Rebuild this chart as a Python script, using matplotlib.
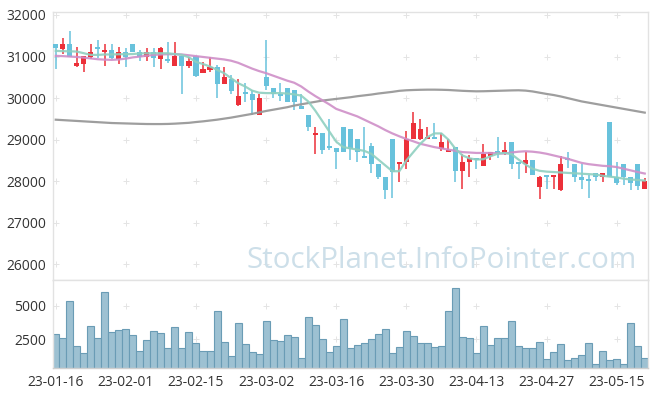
import matplotlib.pyplot as plt
import numpy as np

# datas de negociacao (rotulos a cada 10 pregoes)
tick_pos = [0, 10, 20, 30, 40, 50, 60, 70, 80]
tick_labels = ['23-01-16', '23-02-01', '23-02-15', '23-03-02', '23-03-16',
               '23-03-30', '23-04-13', '23-04-27', '23-05-15']

# OHLC
opens = [31300, 31190, 31300, 30780, 30830, 31000, 31200, 31100, 31160, 30940,
         31110, 31300, 31100, 31000, 31100, 30950, 30900, 30780, 31020, 30780,
         31020, 30592, 30680, 30744, 30344, 30464, 29840, 30100, 30104, 29584,
         30512, 30248, 30104, 30248, 30200, 29816, 29600, 29104, 29160, 28800,
         28800, 29304, 29256, 29024, 28570, 28856, 28424, 28104, 29016, 28408,
         28472, 29016, 29016, 29016, 29072, 28784, 28696, 28816, 28240, 28456,
         28568, 28360, 28600, 28690, 28680, 28952, 28420, 28416, 28512, 27856,
         28100, 28096, 27800, 28525, 28424, 28112, 28056, 28200, 28096, 29416,
         28096, 28424, 28096, 28424, 27816]
highs = [31300, 31440, 31620, 31220, 31020, 31300, 31400, 31300, 31300, 31240,
         31200, 31300, 31160, 31200, 31200, 31240, 31340, 31340, 31020, 30980,
         31020, 30880, 31000, 30800, 30744, 30544, 30456, 30360, 30200, 30096,
         31400, 30248, 30360, 30248, 30200, 30096, 29600, 29296, 29160, 29496,
         28800, 29304, 29256, 29024, 29304, 28920, 28424, 28104, 29016, 28472,
         29216, 29656, 29496, 29304, 29400, 29160, 29016, 28816, 28664, 28640,
         28568, 28904, 28704, 29056, 28944, 28952, 28420, 28696, 28512, 28136,
         28100, 28152, 28600, 28696, 28424, 28416, 28152, 28200, 28200, 29416,
         28464, 28424, 28096, 28424, 28080]
lows = [30700, 31060, 31000, 30740, 30640, 30940, 30960, 30780, 30940, 30820,
        30740, 31100, 30900, 30900, 30740, 30700, 30840, 30780, 30100, 30720,
        30500, 30592, 30640, 30000, 30344, 30104, 29800, 29896, 29600, 29584,
        30200, 30000, 29920, 29896, 29720, 29744, 29200, 28656, 28656, 28744,
        28304, 28696, 28504, 28464, 28560, 28200, 28064, 27560, 27600, 27992,
        28304, 29016, 29000, 29016, 29016, 28720, 28696, 27976, 27816, 28104,
        28296, 28360, 28512, 28560, 28640, 28296, 28056, 28200, 28152, 27560,
        27816, 27816, 27760, 28320, 27976, 27816, 27600, 28000, 27976, 28096,
        27920, 27920, 27784, 27784, 27816]
closes = [31200, 31300, 31000, 30840, 31020, 31110, 31190, 31160, 30960, 31100,
          31000, 31100, 31000, 31100, 30960, 31200, 30890, 31020, 30780, 30900,
          30540, 30704, 30744, 30344, 30512, 30176, 30056, 30090, 29944, 30000,
          30296, 30096, 30040, 29896, 29896, 29744, 29296, 29160, 28744, 28790,
          28696, 28696, 28780, 28696, 28560, 28416, 28096, 27800, 28224, 28472,
          29016, 29400, 29264, 29072, 29016, 28952, 28760, 28240, 28472, 28568,
          28512, 28664, 28704, 28680, 28760, 28416, 28416, 28512, 28152, 28112,
          28096, 28152, 28424, 28520, 28096, 28040, 28000, 28096, 28200, 28096,
          27960, 28096, 27960, 27896, 28016]

# medias moveis
ma_short = [31136, 31130, 31125, 31120, 31080, 31040, 31040, 31050, 31050, 31055,
            31056, 31060, 31075, 31080, 31080, 31080, 31078, 31060, 31040, 30980,
            30870, 30820, 30760, 30680, 30600, 30480, 30360, 30280, 30180, 30130,
            30120, 30120, 30120, 30110, 30090, 30060, 29920, 29700, 29450, 29200,
            28950, 28820, 28790, 28760, 28730, 28660, 28520, 28380, 28240, 28240,
            28500, 28700, 28900, 29060, 29150, 29150, 29000, 28780, 28620, 28550,
            28520, 28530, 28600, 28660, 28680, 28650, 28520, 28400, 28300, 28250,
            28230, 28220, 28210, 28200, 28190, 28180, 28170, 28160, 28130, 28110,
            28090, 28060, 28040, 28030, 28015]
ma_mid = [31016, 31010, 31000, 30990, 30975, 30955, 30935, 30925, 30920, 30930,
          30950, 30980, 31000, 31020, 31040, 31050, 31056, 31056, 31050, 31030,
          31010, 30990, 30970, 30950, 30930, 30900, 30850, 30780, 30710, 30650,
          30600, 30540, 30480, 30420, 30370, 30280, 30160, 30050, 29950, 29850,
          29740, 29680, 29620, 29560, 29480, 29400, 29320, 29230, 29150, 29080,
          29016, 28960, 28900, 28860, 28820, 28790, 28760, 28730, 28700, 28690,
          28680, 28680, 28680, 28670, 28665, 28690, 28710, 28720, 28710, 28690,
          28660, 28620, 28580, 28540, 28490, 28440, 28410, 28390, 28370, 28360,
          28340, 28300, 28260, 28220, 28184]
ma_long = [29480, 29470, 29460, 29450, 29440, 29430, 29420, 29410, 29400, 29395,
           29390, 29385, 29380, 29376, 29375, 29375, 29378, 29385, 29395, 29405,
           29424, 29440, 29460, 29480, 29505, 29530, 29560, 29590, 29620, 29655,
           29690, 29720, 29750, 29780, 29820, 29850, 29880, 29910, 29940, 29960,
           29980, 30000, 30020, 30045, 30065, 30085, 30110, 30130, 30150, 30175,
           30188, 30195, 30200, 30203, 30203, 30200, 30195, 30185, 30175, 30168,
           30163, 30165, 30170, 30175, 30180, 30185, 30188, 30180, 30160, 30130,
           30100, 30074, 30040, 30000, 29960, 29920, 29890, 29860, 29830, 29800,
           29770, 29740, 29710, 29680, 29650]

# volume
volume = [2880, 2580, 5380, 1970, 1440, 3510, 2580, 6060, 3030, 3180,
          3260, 2830, 1590, 2420, 3110, 2950, 1820, 3410, 1820, 3030,
          2200, 1590, 1590, 4620, 2270, 1210, 3710, 2120, 1520, 1360,
          3860, 2420, 2350, 2800, 2650, 1060, 4170, 3560, 2500, 1520,
          1970, 4020, 1820, 2050, 2200, 2500, 2880, 3260, 1440, 1890,
          3110, 2730, 2200, 2200, 1890, 1970, 4620, 6360, 2650, 2580,
          1440, 3490, 2050, 2580, 2580, 3860, 1970, 1820, 1820, 2270,
          990, 1520, 2120, 910, 1060, 1290, 2200, 680, 1590, 910,
          990, 610, 3710, 1970, 1060]

up_color = '#ec3039'
down_color = '#68c2dc'
grid_color = '#e4e4e4'

x = np.arange(len(opens))
o = np.array(opens)
c = np.array(closes)
up = c > o
cols = np.where(up, up_color, down_color)

fig = plt.figure(figsize=(6.57, 3.98), dpi=100)
W, H = 657, 398
ax = fig.add_axes([53.3 / W, 1 - 280 / H, (647.7 - 53.3) / W, (280 - 12) / H])
axv = fig.add_axes([53.3 / W, 1 - 368.3 / H, (647.7 - 53.3) / W, (368.3 - 280) / H], sharex=ax)

# marca d'agua
fig.text(246 / W, 1 - 268.3 / H, 'StockPlanet.InfoPointer.com', fontsize=21.3,
         family='Open Sans', color='#cddfe9', ha='left', va='baseline', zorder=0)

# cruzes de grade nas intersecoes dos ticks
price_ticks = [26000, 27000, 28000, 29000, 30000, 31000, 32000]
gx, gy = np.meshgrid(tick_pos, price_ticks)
ax.scatter(gx.ravel(), gy.ravel(), marker='+', s=20, color=grid_color, linewidths=0.7, zorder=1)
vol_ticks = [2500, 5000]
gx, gy = np.meshgrid(tick_pos, vol_ticks)
axv.scatter(gx.ravel(), gy.ravel(), marker='+', s=20, color=grid_color, linewidths=0.7, zorder=1)

# candles
ax.vlines(x, lows, highs, colors=cols, linewidth=1.1, zorder=2)
body = np.maximum(np.abs(c - o), 45)
ax.bar(x, body, bottom=np.minimum(o, c), width=0.72, color=cols, linewidth=0, zorder=3)

# medias moveis
ax.plot(x, ma_long, color='#999999', linewidth=1.6, alpha=0.95, zorder=4)
ax.plot(x, ma_mid, color='#cf8fc8', linewidth=1.6, alpha=0.9, zorder=4)
ax.plot(x, ma_short, color='#8fd0c0', linewidth=1.6, alpha=0.9, zorder=4)

ax.set_ylim(25622, 32072)
ax.set_yticks(price_ticks)
ax.set_xlim(-0.35, 84.42)

axv.bar(x, volume, width=1.0, color='#9dc1d2', edgecolor='#6a9cb5', linewidth=0.8, zorder=2)
axv.set_ylim(322, 6947)
axv.set_yticks(vol_ticks)
axv.set_xticks(tick_pos)
axv.set_xticklabels(tick_labels)

for a in (ax, axv):
    for s in a.spines.values():
        s.set_color('#e2e2e2')
        s.set_linewidth(1.0)
    a.tick_params(length=0, labelsize=10, labelcolor='#333333', pad=5)
    for lab in a.get_xticklabels() + a.get_yticklabels():
        lab.set_family('Open Sans')
ax.tick_params(labelbottom=False)
axv.spines['bottom'].set_color('#cfcfcf')

fig.savefig('out.png', dpi=100)
